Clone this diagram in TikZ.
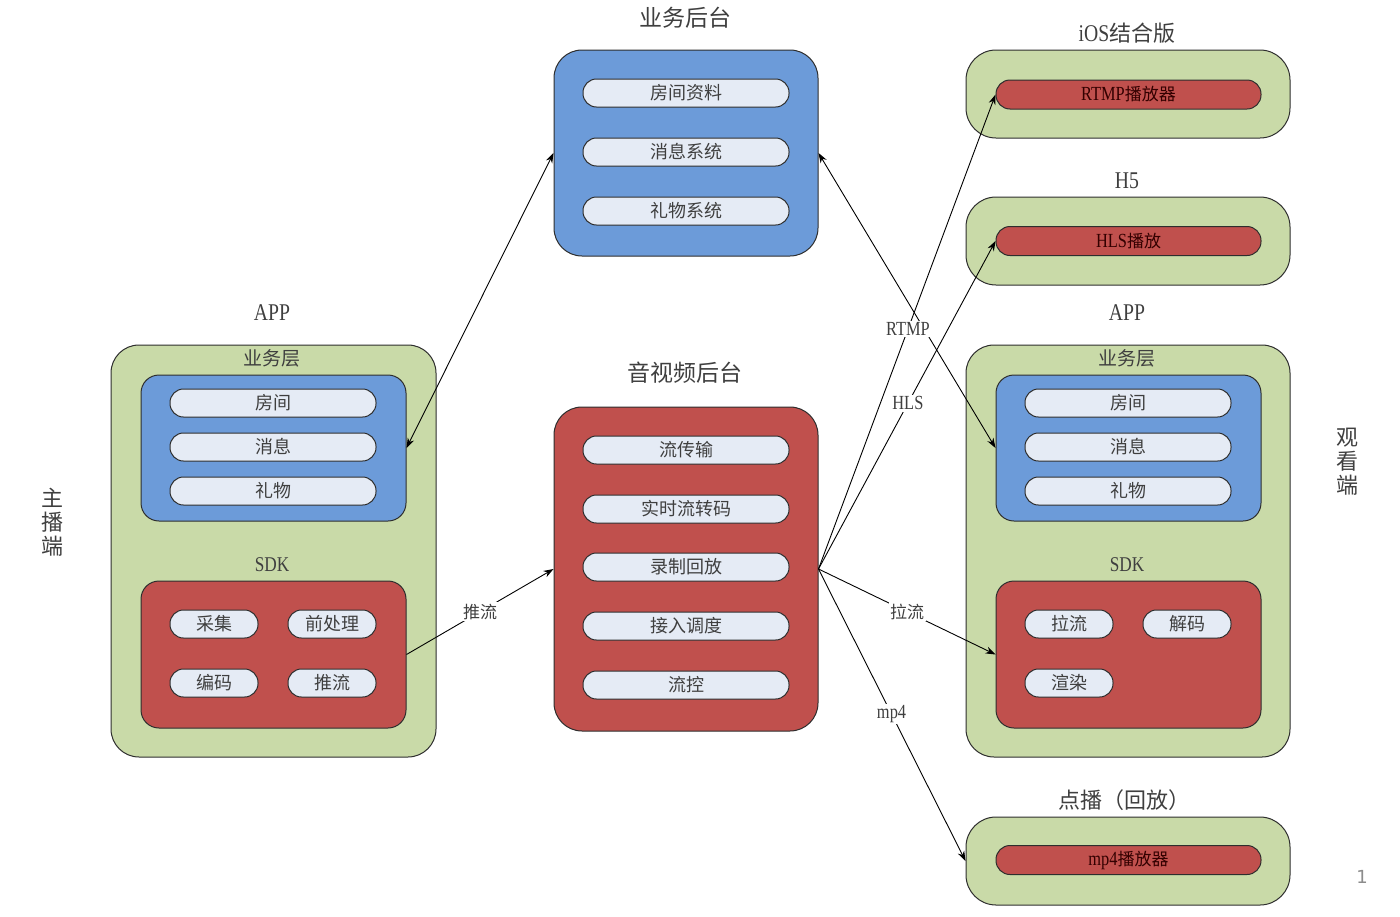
\documentclass[tikz,border=0pt]{standalone}
\usepackage{fontspec}
\setmainfont{Noto Sans CJK SC}
\newfontfamily\lat[FakeStretch=0.82]{Liberation Serif}
\newfontfamily\numfont{DejaVu Sans}
\usetikzlibrary{arrows.meta}
\definecolor{greenc}{HTML}{C9DAA8}
\definecolor{bluec}{HTML}{6C9BD9}
\definecolor{redc}{HTML}{C0504D}
\definecolor{pillc}{HTML}{E5EBF5}
\definecolor{txtc}{HTML}{3F3F3F}
\definecolor{edgec}{HTML}{2E2E2E}
\newcommand{\latin}[1]{{\lat\fontsize{20}{20}\selectfont #1}}
\tikzset{
  outer/.style={draw=edgec, fill=greenc, line width=1pt, rounded corners=28pt, inner sep=0pt},
  bluebox/.style={draw=edgec, fill=bluec, line width=1pt, rounded corners=18pt, inner sep=0pt},
  redbox/.style={draw=edgec, fill=redc, line width=1pt, rounded corners=18pt, inner sep=0pt},
  pill/.style={draw=edgec, fill=pillc, line width=1pt, rounded corners=13.5pt, inner sep=0pt,
    minimum width=206pt, minimum height=28pt, text=txtc, font=\fontsize{18}{18}\selectfont},
  spill/.style={pill, minimum width=88pt},
  redpill/.style={draw=edgec, fill=redc, line width=1pt, rounded corners=14pt, inner sep=0pt,
    minimum width=265pt, minimum height=29pt, text=black!80!red, font=\fontsize{17}{17}\selectfont},
  ttl/.style={text=txtc, inner sep=0pt, font=\fontsize{23}{23}\selectfont},
  sub/.style={text=txtc, inner sep=0pt, font=\fontsize{19}{19}\selectfont},
  latttl/.style={text=txtc, inner sep=0pt, font=\lat\fontsize{24}{24}\selectfont},
  side/.style={text=txtc, inner sep=0pt, font=\fontsize{22}{24}\selectfont, align=center},
  conn/.style={draw=black, line width=0.9pt},
  arr/.style={conn, -{Stealth[length=10pt,width=7pt]}},
  biarr/.style={conn, {Stealth[length=10pt,width=7pt]}-{Stealth[length=10pt,width=7pt]}},
  lbl/.style={fill=white, inner sep=1.5pt, text=txtc, font=\fontsize{17}{17}\selectfont},
  latlbl/.style={lbl, font=\lat\fontsize{20}{20}\selectfont},
}
\begin{document}
\begin{tikzpicture}[x=1pt,y=-1pt]
\useasboundingbox (0,0) rectangle (1400,916);

% ---------- left APP (host) ----------
\node[outer, minimum width=325pt, minimum height=412pt] (lapp) at (273.5,551) {};
\node[latttl] (lapptitle) at (272,313) {APP};
\node[sub] (lbiz) at (272,358) {业务层};
\node[bluebox, minimum width=265pt, minimum height=146pt] (lblue) at (273.5,448) {};
\node[pill] (lroom) at (273,403) {房间};
\node[pill] (lmsg) at (273,447) {消息};
\node[pill] (lgift) at (273,491) {礼物};
\node[latttl, font=\lat\fontsize{21}{21}\selectfont] (lsdk) at (272,565) {SDK};
\node[redbox, minimum width=265pt, minimum height=147pt] (lred) at (273.5,654.5) {};
\node[spill] (lcap) at (214,624) {采集};
\node[spill] (lpre) at (332,624) {前处理};
\node[spill] (lenc) at (214,683) {编码};
\node[spill] (lpush) at (332,683) {推流};

% ---------- center top: business backend ----------
\node[ttl] (ttitle) at (685,18) {业务后台};
\node[bluebox, rounded corners=28pt, minimum width=264pt, minimum height=206pt] (tblue) at (686,153) {};
\node[pill] (troom) at (686,93) {房间资料};
\node[pill] (tmsg) at (686,152) {消息系统};
\node[pill] (tgift) at (686,211) {礼物系统};

% ---------- center bottom: AV backend ----------
\node[ttl] (ctitle) at (685,373) {音视频后台};
\node[redbox, rounded corners=28pt, minimum width=264pt, minimum height=324pt] (cred) at (686,569) {};
\node[pill] (c1) at (686,450) {流传输};
\node[pill] (c2) at (686,509) {实时流转码};
\node[pill] (c3) at (686,567) {录制回放};
\node[pill] (c4) at (686,626) {接入调度};
\node[pill] (c5) at (686,685) {流控};

% ---------- right: iOS ----------
\node[ttl, font=\fontsize{22}{22}\selectfont] (iostitle) at (1127,33) {{\lat\fontsize{24}{24}\selectfont iOS}结合版};
\node[outer, minimum width=324pt, minimum height=88pt, rounded corners=30pt] (ios) at (1128,94) {};
\node[redpill] (rtmp) at (1128.5,94.5) {\latin{RTMP}播放器};

% ---------- right: H5 ----------
\node[latttl] (h5title) at (1127,181) {H5};
\node[outer, minimum width=324pt, minimum height=88pt, rounded corners=30pt] (h5) at (1128,241) {};
\node[redpill] (hls) at (1128.5,241) {\latin{HLS}播放};

% ---------- right APP (viewer) ----------
\node[outer, minimum width=324pt, minimum height=412pt] (rapp) at (1128,551) {};
\node[latttl] (rapptitle) at (1127,313) {APP};
\node[sub] (rbiz) at (1127,358) {业务层};
\node[bluebox, minimum width=265pt, minimum height=146pt] (rblue) at (1128.5,448) {};
\node[pill] (rroom) at (1128,403) {房间};
\node[pill] (rmsg) at (1128,447) {消息};
\node[pill] (rgift) at (1128,491) {礼物};
\node[latttl, font=\lat\fontsize{21}{21}\selectfont] (rsdk) at (1127,565) {SDK};
\node[redbox, minimum width=265pt, minimum height=147pt] (rred) at (1128.5,654.5) {};
\node[spill] (rpull) at (1069,624) {拉流};
\node[spill] (rdec) at (1187,624) {解码};
\node[spill] (rrender) at (1069,683) {渲染};

% ---------- right: VOD ----------
\node[ttl, font=\fontsize{22}{22}\selectfont] (vodtitle) at (1124,800) {点播（回放）};
\node[outer, minimum width=324pt, minimum height=88pt, rounded corners=30pt] (vod) at (1128,861) {};
\node[redpill] (mp4) at (1128.5,860) {\latin{mp4}播放器};

% ---------- side labels ----------
\node[side] (host) at (52,522) {主\\播\\端};
\node[side] (viewer) at (1347,462) {观\\看\\端};
\node[text=black!45, inner sep=0pt, font=\numfont\fontsize{18}{18}\selectfont] (pagenum) at (1362,877) {1};

% ---------- connectors ----------
\draw[biarr] (lblue.east) -- (tblue.west);
\draw[biarr] (tblue.east) -- (rblue.west);
\draw[arr] (lred.east) -- node[lbl, pos=0.5] {推流} (cred.west);
\draw[arr] (cred.east) -- node[latlbl, pos=0.505] {RTMP} (rtmp.west);
\draw[arr] (cred.east) -- node[latlbl, pos=0.505] {HLS} (hls.west);
\draw[arr] (cred.east) -- node[lbl, pos=0.5] {拉流} (rred.west);
\draw[arr] (cred.east) -- node[latlbl, pos=0.497] {mp4} (vod.west);
\end{tikzpicture}
\end{document}
